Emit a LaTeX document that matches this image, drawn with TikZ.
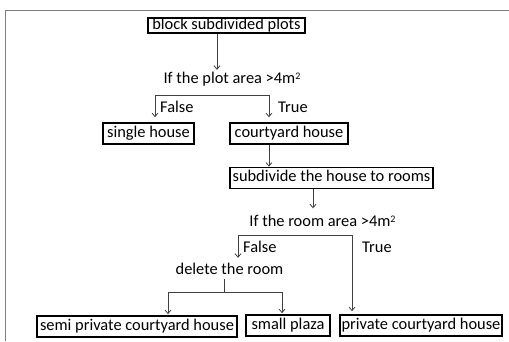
\documentclass[tikz,border=0pt]{standalone}
\usepackage{fontspec}
\setmainfont{Carlito}
\usetikzlibrary{arrows.meta}

\begin{document}
\begin{tikzpicture}[x=1pt,y=-1pt,
    font=\fontsize{16.4}{18}\selectfont,
    box/.style={draw=black,line width=1.7pt,inner sep=0pt,text height=11pt,text depth=4pt,minimum height=21pt},
    txt/.style={inner sep=0pt,text height=11pt,text depth=4pt},
    link/.style={draw=black!75,line width=0.8pt},
    arr/.style={link,-{Straight Barb[length=3.5pt,width=6pt]}},
    arrtwo/.style={link,{Straight Barb[length=3.5pt,width=6pt]}-{Straight Barb[length=3.5pt,width=6pt]}}]
      \useasboundingbox (0,0) rectangle (509,341) ;
      \draw[black!50,line width=1pt] (5,341)--(5,10)--(509,10) ;
      % plots
      \node[box,minimum width=157pt,minimum height=15pt] (plots) at (226.5,25.5) {block subdivided plots};
      \node[txt] (dec1) at (232,80) {If the plot area >4m\raisebox{4.5pt}{\fontsize{10}{10}\selectfont 2}};
      \node[txt,anchor=west] (false1) at (160,109) {False};
      \node[txt,anchor=west] (true1) at (278,109) {True};
      \node[box,minimum width=91pt] (single) at (148.5,133.5) {single house};
      \node[box,minimum width=118pt] (court) at (289,133.5) {courtyard house};
      \node[box,minimum width=203pt] (subdiv) at (331.5,178) {subdivide the house to rooms};
      % rooms
      \node[txt] (dec2) at (322.5,223) {If the room area >4m\raisebox{4.5pt}{\fontsize{10}{10}\selectfont 2}};
      \node[txt,anchor=west] (false2) at (243,249) {False};
      \node[txt,anchor=west] (true2) at (362,249) {True};
      \node[txt] (delete) at (229.5,271) {delete the room};
      \node[box,minimum width=200pt] (semi) at (137,326.5) {semi private courtyard house};
      \node[box,minimum width=84pt] (plaza) at (288,325.5) {small plaza};
      \node[box,minimum width=162pt] (private) at (421,325.5) {private courtyard house};
      % connectors
      \coordinate (b1l) at ([xshift=-77pt,yshift=-7.5pt]dec1.south) ;
      \coordinate (b1r) at ([xshift=37pt,yshift=-7.5pt]dec1.south) ;
      \coordinate (b2l) at ([xshift=-84.5pt,yshift=-4.5pt]dec2.south) ;
      \coordinate (b2r) at ([xshift=29.5pt,yshift=-4.5pt]dec2.south) ;
      \coordinate (b3) at ([xshift=-5.5pt,yshift=-13.5pt]delete.south) ;
      \coordinate (b3l) at ([xshift=-56pt]b3) ;
      \coordinate (b3r) at ([xshift=58pt]b3) ;
      \draw[arr,shorten >=2.5pt] ([xshift=-9.5pt]plots.south) -- ([xshift=-15pt]dec1.north) ;
      \draw[arrtwo,shorten <=5pt,shorten >=5pt] (b1l |- single.north) -- (b1l) -- (b1r) -- (b1r |- court.north) ;
      \draw[arr] (b1r |- court.south) -- (b1r |- subdiv.north) ;
      \draw[arr,shorten >=7pt] ([xshift=-18.5pt]subdiv.south) -- ([xshift=-9.5pt]dec2.north) ;
      \draw[arrtwo,shorten <=5.5pt,shorten >=3pt] (b2l |- delete.north) -- (b2l) -- (b2r) -- (b2r |- private.north) ;
      \draw[link] (b3 |- delete.south) -- (b3) ;
      \draw[arrtwo,shorten <=1pt,shorten >=1pt] (b3l |- semi.north) -- (b3l) -- (b3r) -- (b3r |- plaza.north) ;
    \end{tikzpicture}
\end{document}
